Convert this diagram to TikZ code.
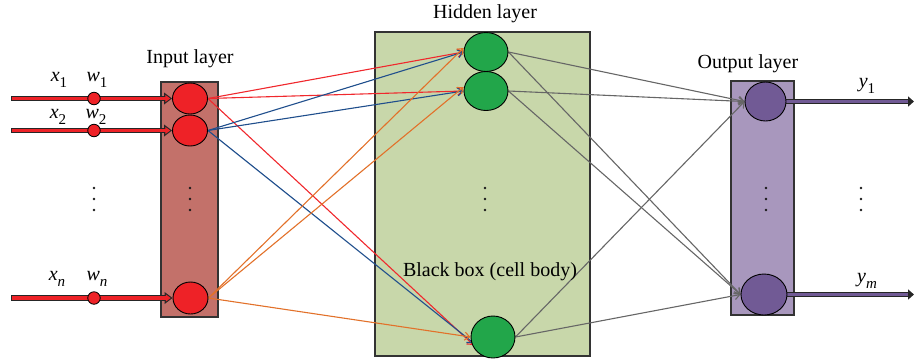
\documentclass[tikz,border=0pt]{standalone}
\usepackage{fontspec}
\setmainfont{Liberation Serif}
\usetikzlibrary{arrows.meta,shapes.geometric}
\pgfdeclarelayer{bg}
\pgfsetlayers{bg,main}
\definecolor{inred}{HTML}{EE2227}
\definecolor{inbox}{HTML}{C3716A}
\definecolor{hidbox}{HTML}{C8D7AA}
\definecolor{hidnode}{HTML}{22A64A}
\definecolor{outbox}{HTML}{A897BD}
\definecolor{outnode}{HTML}{715A95}
\definecolor{cred}{HTML}{F0282D}
\definecolor{cblue}{HTML}{1F4E8C}
\definecolor{corange}{HTML}{E2712A}
\definecolor{cgray}{HTML}{666666}
\newcommand{\vlab}[2]{\textit{#1}\raisebox{-0.32em}{\fontsize{15}{15}\selectfont #2}}
\begin{document}
\begin{tikzpicture}[x=1pt,y=-1pt,
  layerbox/.style={draw=black!80, line width=1.3pt, inner sep=0pt},
  neuron/.style={ellipse, draw=black, line width=0.9pt, inner sep=0pt},
  lbl/.style={font=\fontsize{20}{24}\selectfont, inner sep=0pt},
  conn/.style={line width=1.1pt, -{Straight Barb[length=5pt,width=8pt]}},
  inouter/.style={line width=5.5pt, draw=black!85, shorten <=-1pt, -{Triangle[length=8pt,width=11.5pt]}},
  ininner/.style={line width=3.3pt, draw=inred, shorten >=1.8pt, -{Triangle[length=5pt,width=7pt]}},
  outouter/.style={line width=5pt, draw=black!85, -{Triangle[length=6pt,width=10pt]}},
  outinner/.style={line width=3pt, draw=outnode, shorten >=6pt},
  wdot/.style={circle, draw=black, fill=inred, line width=0.8pt, minimum size=12.5pt, inner sep=0pt},
  ]
\useasboundingbox (0,0) rectangle (914,360);

% neurons
\node[neuron, fill=inred, minimum width=35pt, minimum height=31pt] (i1) at (190,98.5) {};
\node[neuron, fill=inred, minimum width=35pt, minimum height=31pt] (i2) at (190,130.5) {};
\node[neuron, fill=inred, minimum width=35pt, minimum height=32pt] (in) at (190.5,298) {};

\node[neuron, fill=hidnode, minimum width=44pt, minimum height=39pt] (h1) at (486,52) {};
\node[neuron, fill=hidnode, minimum width=44pt, minimum height=39pt] (h2) at (486,91) {};
\node[neuron, fill=hidnode, minimum width=44pt, minimum height=42pt] (hb3) at (493,337) {};

\node[neuron, fill=outnode, minimum width=41pt, minimum height=39pt] (o1) at (765.5,101.5) {};
\node[neuron, fill=outnode, minimum width=46pt, minimum height=41pt] (om) at (764,294.5) {};

\begin{pgfonlayer}{bg}
% layer boxes
\node[layerbox, fill=inbox, minimum width=57pt, minimum height=235pt] (ib) at (189.5,199.5) {};
\node[layerbox, fill=hidbox, minimum width=215pt, minimum height=324pt] (hb) at (482.5,194) {};
\node[layerbox, fill=outbox, minimum width=63pt, minimum height=234pt] (ob) at (762.5,198) {};

% input -> hidden connectors
\draw[conn, cred] (i1.east) -- (h1.west);
\draw[conn, cred] (i1.east) -- (h2.west);
\draw[conn, cred] (i1.east) -- ([xshift=3pt,yshift=-8pt]hb3.west);
\draw[conn, cblue] (i2.east) -- (h1.west);
\draw[conn, cblue] (i2.east) -- (h2.west);
\draw[conn, cblue] (i2.east) -- ([xshift=3pt,yshift=-6pt]hb3.west);
\draw[conn, corange] (in.east) -- ([yshift=4pt]h1.west);
\draw[conn, corange] (in.east) -- ([yshift=4pt]h2.west);
\draw[conn, corange] (in.east) -- (hb3.west);

% hidden -> output connectors
\draw[conn, cgray] (h1.east) -- (o1.west);
\draw[conn, cgray] (h1.east) -- (om.west);
\draw[conn, cgray] (h2.east) -- (o1.west);
\draw[conn, cgray] (h2.east) -- (om.west);
\draw[conn, cgray] (hb3.east) -- (o1.west);
\draw[conn, cgray] (hb3.east) -- (om.west);

% input signal arrows
\coordinate (s1) at (12,98.5);
\coordinate (s2) at (12,130.5);
\coordinate (sn) at (12,298);
\foreach \s/\t in {s1/i1, s2/i2, sn/in} {
  \draw[inouter] (\s) -- (\t.west);
  \draw[ininner] (\s) -- (\t.west);
}

% output signal lines
\coordinate (e1) at (914,101.5);
\coordinate (em) at (914,294.5);
\draw[outouter] (o1.east) -- (e1);
\draw[outinner] (o1.east) -- (e1);
\draw[outouter] (om.east) -- (em);
\draw[outinner] (om.east) -- (em);
\end{pgfonlayer}

% weights
\node[wdot] (w1) at (94,98.5) {};
\node[wdot] (w2) at (94,130.5) {};
\node[wdot] (wn) at (94,298) {};

% vertical dots
\foreach \x in {94,190,485,766,861} {
  \foreach \y in {188,199,210} {
    \fill[black!90] (\x,\y) circle (1.3pt);
  }
}

% labels
\node[lbl] (lin) at (190,59) {Input layer};
\node[lbl] (lhid) at (485,14) {Hidden layer};
\node[lbl] (lout) at (748,64) {Output layer};
\node[lbl] (lbb) at (490,272) {Black box (cell body)};
\node[lbl] (lx1) at (59,80) {\vlab{x}{1}};
\node[lbl] (lw1) at (97,80) {\vlab{w}{1}};
\node[lbl] (lx2) at (58,117) {\vlab{x}{2}};
\node[lbl] (lw2) at (96,117) {\vlab{w}{2}};
\node[lbl] (lxn) at (57,279) {\vlab{x}{\textit{n}}};
\node[lbl] (lwn) at (97,279) {\vlab{w}{\textit{n}}};
\node[lbl] (ly1) at (867,86) {\vlab{y}{1}};
\node[lbl] (lym) at (867,281) {\vlab{y}{\textit{m}}};
\end{tikzpicture}
\end{document}
